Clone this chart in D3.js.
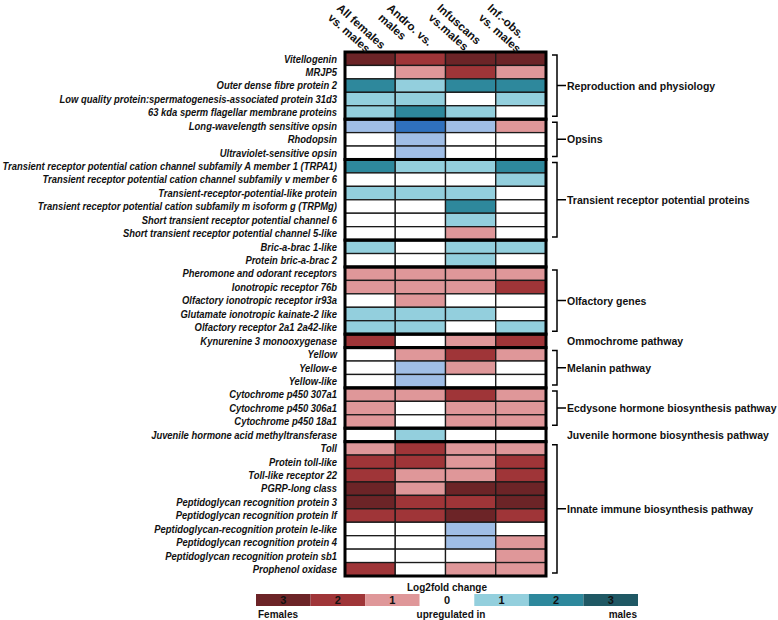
<!DOCTYPE html>
<html>
<head>
<meta charset="utf-8">
<script src="https://cdn.jsdelivr.net/npm/d3@7"></script>
<style>
  html, body { margin: 0; padding: 0; background: #fff; }
  svg { display: block; }
  .rowlab { font-family: "Liberation Sans", Arial, sans-serif; font-weight: bold; font-style: italic; font-size: 10.6px; fill: #111; }
  .grplab { font-family: "Liberation Sans", Arial, sans-serif; font-weight: bold; font-size: 10.5px; fill: #111; }
  .collab { font-family: "Liberation Sans", Arial, sans-serif; font-weight: bold; font-size: 11.5px; fill: #111; }
  .leg { font-family: "Liberation Sans", Arial, sans-serif; font-weight: bold; font-size: 10px; fill: #111; }
</style>
</head>
<body>
<svg id="chart" width="778" height="620"></svg>
<script>
// ---------------- data ----------------
const columns = [
  ["All females", "vs. males"],
  ["Andro. vs.", "males"],
  ["Infuscans", "vs.males"],
  ["Inf.-obs.", "vs. males"]
];

const genes = [
  "Vitellogenin",
  "MRJP5",
  "Outer dense fibre protein 2",
  "Low quality protein:spermatogenesis-associated protein 31d3",
  "63 kda sperm flagellar membrane proteins",
  "Long-wavelength sensitive opsin",
  "Rhodopsin",
  "Ultraviolet-sensitive opsin",
  "Transient receptor potential cation channel subfamily A member 1 (TRPA1)",
  "Transient receptor potential cation channel subfamily v member 6",
  "Transient-receptor-potential-like protein",
  "Transient receptor potential cation subfamily m isoform g (TRPMg)",
  "Short transient receptor potential channel 6",
  "Short transient receptor potential channel 5-like",
  "Bric-a-brac 1-like",
  "Protein bric-a-brac 2",
  "Pheromone and odorant receptors",
  "Ionotropic receptor 76b",
  "Olfactory ionotropic receptor ir93a",
  "Glutamate ionotropic kainate-2 like",
  "Olfactory receptor 2a1 2a42-like",
  "Kynurenine 3 monooxygenase",
  "Yellow",
  "Yellow-e",
  "Yellow-like",
  "Cytochrome p450 307a1",
  "Cytochrome p450 306a1",
  "Cytochrome p450 18a1",
  "Juvenile hormone acid methyltransferase",
  "Toll",
  "Protein toll-like",
  "Toll-like receptor 22",
  "PGRP-long class",
  "Peptidoglycan recognition protein 3",
  "Peptidoglycan recognition protein lf",
  "Peptidoglycan-recognition protein le-like",
  "Peptidoglycan recognition protein 4",
  "Peptidoglycan recognition protein sb1",
  "Prophenol oxidase"
];

// codes: F3/F2/F1 = up in females, M1/M2/M3 = up in males, B1/B2 = blue shades, "0" = none
const values = [
  ["F3","F2","F3","F3"],
  ["0","F1","F2","F1"],
  ["M2","M1","M2","M2"],
  ["M1","M1","0","M1"],
  ["M1","M2","M1","0"],
  ["B1","B2","B1","F1"],
  ["0","B1","0","0"],
  ["0","B1","0","0"],
  ["M2","M1","M1","M2"],
  ["0","0","0","M1"],
  ["M1","M1","M1","0"],
  ["0","0","M2","0"],
  ["0","0","M1","0"],
  ["0","0","F1","0"],
  ["M1","0","M1","M1"],
  ["0","0","M1","0"],
  ["F1","F1","F1","F1"],
  ["F1","F1","F1","F2"],
  ["0","F1","0","0"],
  ["M1","M1","M1","0"],
  ["M1","M1","0","M1"],
  ["F2","0","F1","F2"],
  ["0","F1","F2","F1"],
  ["0","B1","F1","0"],
  ["0","B1","0","0"],
  ["F1","F1","F2","F1"],
  ["F1","0","F1","F1"],
  ["F1","0","F1","F1"],
  ["0","M1","0","0"],
  ["F1","F2","F1","F1"],
  ["F2","F2","F1","F2"],
  ["F2","F1","F1","F2"],
  ["F3","F1","F3","F3"],
  ["F3","F2","F2","F3"],
  ["F2","F2","F3","F2"],
  ["0","0","B1","0"],
  ["0","0","B1","F1"],
  ["0","0","0","F1"],
  ["F2","0","F1","F1"]
];

const groupLabels = [
  "Reproduction and physiology",
  "Opsins",
  "Transient receptor potential proteins",
  "",
  "Olfactory genes",
  "Ommochrome pathway",
  "Melanin pathway",
  "Ecdysone hormone biosynthesis pathway",
  "Juvenile hormone biosynthesis pathway",
  "Innate immune biosynthesis pathway"
];
const groupSizes = [5, 3, 6, 2, 5, 1, 3, 3, 1, 10];

const legendCodes = ["F3","F2","F1","0","M1","M2","M3"];
const legendLabels = ["3","2","1","0","1","2","3"];
const legendTitle = "Log2fold change";
const legendBottom = ["Females", "upregulated in", "males"];

const colorCodes = ["F3","F2","F1","0","M1","M2","M3","B1","B2"];
const colorValues = ["#6c2427","#9f3538","#df9799","#ffffff","#93cfdd","#2e889c","#1f5864","#a0bee6","#2f70bd"];

// ---------------- drawing ----------------
const svg = d3.select("#chart");
const color = d3.scaleOrdinal().domain(colorCodes).range(colorValues);

const x = d3.scaleBand().domain(d3.range(columns.length)).range([345, 546]);
const y = d3.scaleBand().domain(d3.range(genes.length)).range([52, 576]);

// cells
const cells = [];
values.forEach((row, r) => row.forEach((v, c) => cells.push({r, c, v})));

svg.append("g").selectAll("rect").data(cells).join("rect")
  .attr("x", d => x(d.c))
  .attr("y", d => y(d.r))
  .attr("width", x.bandwidth())
  .attr("height", y.bandwidth())
  .attr("fill", d => color(d.v))
  .attr("stroke", "#1a1a1a")
  .attr("stroke-width", 1.3);

// groups
const groups = [];
let start = 0;
groupSizes.forEach((n, i) => { groups.push({label: groupLabels[i], start, end: start + n - 1, n}); start += n; });

svg.append("g").selectAll("rect").data(groups).join("rect")
  .attr("x", x.range()[0])
  .attr("y", d => y(d.start))
  .attr("width", x.range()[1] - x.range()[0])
  .attr("height", d => y(d.end) + y.bandwidth() - y(d.start))
  .attr("fill", "none")
  .attr("stroke", "#000")
  .attr("stroke-width", 3);

// row labels (condensed horizontally so the longest fits left of the grid)
const labelRight = x.range()[0] - 8;
const rl = svg.append("g").selectAll("text").data(genes).join("text")
  .attr("class", "rowlab")
  .attr("text-anchor", "end")
  .text(d => d);
let maxW = 0;
rl.each(function() { maxW = Math.max(maxW, this.getComputedTextLength()); });
const k = Math.min(1, (labelRight - 2) / maxW);
rl.attr("transform", (d, i) => `translate(${labelRight},${y(i) + y.bandwidth() / 2 + 3.8}) scale(${k},1)`);

// column headers
const ch = svg.append("g").selectAll("text").data(columns).join("text")
  .attr("class", "collab")
  .attr("transform", (d, i) => `translate(${x(i) - 9},9) rotate(42)`);
ch.append("tspan").attr("x", 0).attr("dy", 0).text(d => d[0]);
ch.append("tspan").attr("x", 0).attr("dy", 13).text(d => d[1]);

// brackets + group labels
const bx = x.range()[1] + 11;
const bg = svg.append("g");
groups.filter(g => g.label).forEach(g => {
  const top = y(g.start), bot = y(g.end) + y.bandwidth();
  const mid = (top + bot) / 2;
  if (g.n > 1) {
    bg.append("path")
      .attr("d", `M${bx - 5},${top + 3}H${bx}V${bot - 3}H${bx - 5}M${bx},${mid}H${bx + 9}`)
      .attr("fill", "none").attr("stroke", "#000").attr("stroke-width", 1.5);
  }
  bg.append("text").attr("class", "grplab")
    .attr("x", bx + 10).attr("y", mid + 4)
    .text(g.label);
});

// legend
const lx = d3.scaleBand().domain(legendCodes).range([256, 638]);
const lg = svg.append("g");
lg.selectAll("rect").data(legendCodes).join("rect")
  .attr("x", d => lx(d)).attr("y", 594)
  .attr("width", lx.bandwidth()).attr("height", 12)
  .attr("fill", d => color(d));
lg.selectAll("text.num").data(legendCodes).join("text")
  .attr("class", "leg num")
  .attr("x", d => lx(d) + lx.bandwidth() / 2)
  .attr("y", 604)
  .attr("text-anchor", "middle")
  .style("font-size", "11px")
  .attr("fill", "#222")
  .text((d, i) => legendLabels[i]);
lg.append("text").attr("class", "leg")
  .attr("x", (lx.range()[0] + lx.range()[1]) / 2).attr("y", 591)
  .attr("text-anchor", "middle").text(legendTitle);
lg.append("text").attr("class", "leg")
  .attr("x", lx.range()[0] + 2).attr("y", 618).text(legendBottom[0]);
lg.append("text").attr("class", "leg")
  .attr("x", lx(legendCodes[3]) + lx.bandwidth() / 2 + 4).attr("y", 618)
  .attr("text-anchor", "middle").text(legendBottom[1]);
lg.append("text").attr("class", "leg")
  .attr("x", lx.range()[1] - 1).attr("y", 618)
  .attr("text-anchor", "end").text(legendBottom[2]);
</script>
</body>
</html>
